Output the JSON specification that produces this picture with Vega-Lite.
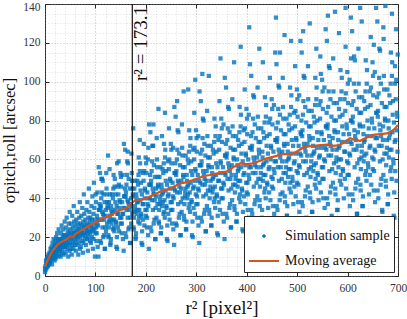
{
"$schema": "https://vega.github.io/schema/vega-lite/v6.json",
"width": 353, "height": 272,
"autosize": {"type": "none"},
"padding": {"left": 45, "top": 4, "right": 9, "bottom": 43},
"background": "white",
"config": {
  "view": {"stroke": "#262626", "strokeWidth": 1},
  "font": "Liberation Serif",
  "axis": {"labelFont": "Liberation Serif", "titleFont": "Liberation Serif", "labelColor": "#333333", "titleColor": "#111111", "tickColor": "#262626", "domain": false, "labelFlush": false, "labelOverlap": false}
},
"datasets": {
"samples": [
{"x":0,"y":2},{"x":0,"y":4},{"x":1,"y":5},{"x":1,"y":3},{"x":2,"y":6},{"x":2,"y":8},{"x":3,"y":4},{"x":3,"y":7},{"x":4,"y":5},{"x":4,"y":9},{"x":5,"y":6},{"x":5,"y":8},{"x":6,"y":10},{"x":6,"y":5},{"x":7,"y":7},{"x":7,"y":11},{"x":8,"y":9},{"x":8,"y":6},{"x":9,"y":12},{"x":9,"y":8},
{"x":10,"y":7},{"x":10,"y":11},{"x":11,"y":9},{"x":11,"y":14},{"x":12,"y":12},{"x":12,"y":8},{"x":13,"y":10},{"x":13,"y":15},{"x":14,"y":13},{"x":14,"y":6},{"x":15,"y":11},{"x":15,"y":17},{"x":16,"y":9},{"x":16,"y":13},{"x":17,"y":12},{"x":17,"y":19},{"x":18,"y":14},{"x":18,"y":10},{"x":19,"y":16},{"x":19,"y":8},
{"x":20,"y":11},{"x":20,"y":15},{"x":21,"y":9},{"x":21,"y":18},{"x":22,"y":13},{"x":22,"y":20},{"x":23,"y":16},{"x":23,"y":12},{"x":24,"y":14},{"x":24,"y":22},{"x":25,"y":10},{"x":25,"y":17},{"x":26,"y":15},{"x":26,"y":19},{"x":27,"y":13},{"x":27,"y":24},{"x":28,"y":16},{"x":28,"y":11},{"x":29,"y":18},{"x":29,"y":14},
{"x":30,"y":13},{"x":30,"y":19},{"x":31,"y":10},{"x":31,"y":16},{"x":32,"y":22},{"x":32,"y":15},{"x":33,"y":18},{"x":33,"y":26},{"x":34,"y":12},{"x":34,"y":17},{"x":35,"y":20},{"x":35,"y":14},{"x":36,"y":24},{"x":36,"y":16},{"x":37,"y":19},{"x":37,"y":11},{"x":38,"y":21},{"x":38,"y":17},{"x":39,"y":28},{"x":39,"y":15},
{"x":40,"y":15},{"x":40,"y":21},{"x":41,"y":12},{"x":41,"y":18},{"x":42,"y":25},{"x":42,"y":19},{"x":43,"y":16},{"x":43,"y":30},{"x":44,"y":20},{"x":44,"y":14},{"x":45,"y":23},{"x":45,"y":17},{"x":46,"y":10},{"x":46,"y":21},{"x":47,"y":19},{"x":47,"y":27},{"x":48,"y":16},{"x":48,"y":22},{"x":49,"y":13},{"x":49,"y":33},
{"x":50,"y":17},{"x":50,"y":24},{"x":51,"y":14},{"x":51,"y":20},{"x":52,"y":27},{"x":52,"y":19},{"x":53,"y":22},{"x":53,"y":11},{"x":54,"y":16},{"x":54,"y":31},{"x":55,"y":21},{"x":55,"y":25},{"x":56,"y":18},{"x":56,"y":14},{"x":57,"y":23},{"x":57,"y":36},{"x":58,"y":20},{"x":58,"y":28},{"x":59,"y":16},{"x":59,"y":22},
{"x":60,"y":18},{"x":60,"y":26},{"x":61,"y":13},{"x":61,"y":22},{"x":62,"y":29},{"x":62,"y":20},{"x":63,"y":24},{"x":63,"y":16},{"x":64,"y":33},{"x":64,"y":21},{"x":65,"y":19},{"x":65,"y":27},{"x":66,"y":11},{"x":66,"y":23},{"x":67,"y":25},{"x":67,"y":17},{"x":68,"y":30},{"x":68,"y":21},{"x":69,"y":38},{"x":69,"y":14},
{"x":70,"y":20},{"x":70,"y":27},{"x":71,"y":15},{"x":71,"y":24},{"x":72,"y":31},{"x":72,"y":22},{"x":73,"y":18},{"x":73,"y":26},{"x":74,"y":35},{"x":74,"y":23},{"x":75,"y":12},{"x":75,"y":21},{"x":76,"y":28},{"x":76,"y":17},{"x":77,"y":25},{"x":77,"y":42},{"x":78,"y":22},{"x":78,"y":32},{"x":79,"y":19},{"x":79,"y":26},
{"x":80,"y":21},{"x":80,"y":29},{"x":81,"y":16},{"x":81,"y":25},{"x":82,"y":34},{"x":82,"y":23},{"x":83,"y":19},{"x":83,"y":27},{"x":84,"y":38},{"x":84,"y":24},{"x":85,"y":13},{"x":85,"y":22},{"x":86,"y":30},{"x":86,"y":20},{"x":87,"y":26},{"x":87,"y":45},{"x":88,"y":23},{"x":88,"y":33},{"x":89,"y":18},{"x":89,"y":28},
{"x":90,"y":22},{"x":90,"y":30},{"x":91,"y":17},{"x":91,"y":26},{"x":92,"y":36},{"x":92,"y":24},{"x":93,"y":20},{"x":93,"y":29},{"x":94,"y":41},{"x":94,"y":25},{"x":95,"y":14},{"x":95,"y":23},{"x":96,"y":32},{"x":96,"y":19},{"x":97,"y":27},{"x":97,"y":48},{"x":98,"y":24},{"x":98,"y":35},{"x":99,"y":10},{"x":99,"y":29},
{"x":100,"y":22},{"x":101,"y":38},{"x":102,"y":18},{"x":103,"y":31},{"x":104,"y":43},{"x":105,"y":26},{"x":106,"y":10},{"x":107,"y":34},{"x":108,"y":29},{"x":109,"y":53},
{"x":110,"y":35},{"x":111,"y":17},{"x":112,"y":29},{"x":113,"y":50},{"x":114,"y":25},{"x":115,"y":32},{"x":116,"y":42},{"x":117,"y":21},{"x":118,"y":38},{"x":119,"y":14},
{"x":120,"y":31},{"x":121,"y":23},{"x":122,"y":45},{"x":123,"y":27},{"x":124,"y":36},{"x":125,"y":62},{"x":126,"y":20},{"x":127,"y":38},{"x":128,"y":29},{"x":129,"y":42},
{"x":130,"y":17},{"x":131,"y":36},{"x":132,"y":27},{"x":133,"y":42},{"x":134,"y":33},{"x":135,"y":24},{"x":136,"y":52},{"x":137,"y":29},{"x":138,"y":46},{"x":139,"y":34},
{"x":140,"y":42},{"x":141,"y":27},{"x":142,"y":36},{"x":143,"y":14},{"x":144,"y":46},{"x":145,"y":32},{"x":146,"y":59},{"x":147,"y":23},{"x":148,"y":39},{"x":149,"y":30},
{"x":150,"y":27},{"x":151,"y":46},{"x":152,"y":22},{"x":153,"y":38},{"x":154,"y":52},{"x":155,"y":32},{"x":156,"y":13},{"x":157,"y":41},{"x":158,"y":35},{"x":159,"y":65},
{"x":160,"y":41},{"x":161,"y":20},{"x":162,"y":34},{"x":163,"y":59},{"x":164,"y":30},{"x":165,"y":38},{"x":166,"y":50},{"x":167,"y":25},{"x":168,"y":45},{"x":169,"y":17},
{"x":170,"y":36},{"x":171,"y":27},{"x":172,"y":53},{"x":173,"y":32},{"x":174,"y":42},{"x":175,"y":76},{"x":176,"y":24},{"x":177,"y":45},{"x":178,"y":34},{"x":179,"y":49},
{"x":180,"y":20},{"x":181,"y":42},{"x":182,"y":32},{"x":183,"y":49},{"x":184,"y":38},{"x":185,"y":28},{"x":186,"y":61},{"x":187,"y":34},{"x":188,"y":54},{"x":189,"y":39},
{"x":190,"y":48},{"x":191,"y":31},{"x":192,"y":42},{"x":193,"y":16},{"x":194,"y":53},{"x":195,"y":37},{"x":196,"y":68},{"x":197,"y":26},{"x":198,"y":45},{"x":199,"y":34},
{"x":200,"y":31},{"x":201,"y":53},{"x":202,"y":25},{"x":203,"y":43},{"x":204,"y":60},{"x":205,"y":36},{"x":206,"y":14},{"x":207,"y":47},{"x":208,"y":40},{"x":209,"y":74},
{"x":210,"y":47},{"x":211,"y":23},{"x":212,"y":39},{"x":213,"y":67},{"x":214,"y":34},{"x":215,"y":43},{"x":216,"y":57},{"x":217,"y":29},{"x":218,"y":51},{"x":219,"y":19},
{"x":220,"y":41},{"x":221,"y":30},{"x":222,"y":60},{"x":223,"y":37},{"x":224,"y":47},{"x":225,"y":86},{"x":226,"y":27},{"x":227,"y":51},{"x":228,"y":39},{"x":229,"y":56},
{"x":230,"y":22},{"x":231,"y":47},{"x":232,"y":36},{"x":233,"y":55},{"x":234,"y":43},{"x":235,"y":32},{"x":236,"y":68},{"x":237,"y":39},{"x":238,"y":61},{"x":239,"y":44},
{"x":240,"y":54},{"x":241,"y":35},{"x":242,"y":47},{"x":243,"y":18},{"x":244,"y":59},{"x":245,"y":42},{"x":246,"y":76},{"x":247,"y":29},{"x":248,"y":50},{"x":249,"y":38},
{"x":250,"y":34},{"x":251,"y":58},{"x":252,"y":27},{"x":253,"y":48},{"x":254,"y":66},{"x":255,"y":40},{"x":256,"y":16},{"x":257,"y":53},{"x":258,"y":44},{"x":259,"y":82},
{"x":260,"y":52},{"x":261,"y":26},{"x":262,"y":43},{"x":263,"y":75},{"x":264,"y":37},{"x":265,"y":48},{"x":266,"y":63},{"x":267,"y":32},{"x":268,"y":57},{"x":269,"y":21},
{"x":270,"y":45},{"x":271,"y":33},{"x":272,"y":66},{"x":273,"y":40},{"x":274,"y":52},{"x":275,"y":95},{"x":276,"y":29},{"x":277,"y":56},{"x":278,"y":43},{"x":279,"y":62},
{"x":280,"y":24},{"x":281,"y":52},{"x":282,"y":40},{"x":283,"y":60},{"x":284,"y":47},{"x":285,"y":35},{"x":286,"y":75},{"x":287,"y":43},{"x":288,"y":67},{"x":289,"y":48},
{"x":290,"y":59},{"x":291,"y":38},{"x":292,"y":52},{"x":293,"y":20},{"x":294,"y":65},{"x":295,"y":46},{"x":296,"y":84},{"x":297,"y":32},{"x":298,"y":55},{"x":299,"y":42},
{"x":300,"y":37},{"x":301,"y":64},{"x":302,"y":30},{"x":303,"y":52},{"x":304,"y":72},{"x":305,"y":44},{"x":306,"y":17},{"x":307,"y":57},{"x":308,"y":48},{"x":309,"y":90},
{"x":310,"y":57},{"x":311,"y":28},{"x":312,"y":47},{"x":313,"y":81},{"x":314,"y":41},{"x":315,"y":52},{"x":316,"y":68},{"x":317,"y":34},{"x":318,"y":62},{"x":319,"y":23},
{"x":320,"y":49},{"x":321,"y":36},{"x":322,"y":72},{"x":323,"y":44},{"x":324,"y":57},{"x":325,"y":103},{"x":326,"y":32},{"x":327,"y":61},{"x":328,"y":46},{"x":329,"y":67},
{"x":330,"y":26},{"x":331,"y":56},{"x":332,"y":43},{"x":333,"y":65},{"x":334,"y":51},{"x":335,"y":38},{"x":336,"y":81},{"x":337,"y":46},{"x":338,"y":72},{"x":339,"y":52},
{"x":340,"y":64},{"x":341,"y":41},{"x":342,"y":56},{"x":343,"y":21},{"x":344,"y":70},{"x":345,"y":49},{"x":346,"y":90},{"x":347,"y":34},{"x":348,"y":59},{"x":349,"y":45},
{"x":350,"y":40},{"x":351,"y":69},{"x":352,"y":32},{"x":353,"y":56},{"x":354,"y":78},{"x":355,"y":47},{"x":356,"y":19},{"x":357,"y":62},{"x":358,"y":52},{"x":359,"y":97},
{"x":360,"y":61},{"x":361,"y":30},{"x":362,"y":50},{"x":363,"y":87},{"x":364,"y":44},{"x":365,"y":56},{"x":366,"y":74},{"x":367,"y":37},{"x":368,"y":66},{"x":369,"y":25},
{"x":370,"y":52},{"x":371,"y":39},{"x":372,"y":77},{"x":373,"y":47},{"x":374,"y":61},{"x":375,"y":110},{"x":376,"y":34},{"x":377,"y":65},{"x":378,"y":50},{"x":379,"y":72},
{"x":380,"y":28},{"x":381,"y":60},{"x":382,"y":46},{"x":383,"y":70},{"x":384,"y":55},{"x":385,"y":40},{"x":386,"y":87},{"x":387,"y":49},{"x":388,"y":77},{"x":389,"y":56},
{"x":390,"y":68},{"x":391,"y":44},{"x":392,"y":59},{"x":393,"y":23},{"x":394,"y":75},{"x":395,"y":53},{"x":396,"y":96},{"x":397,"y":37},{"x":398,"y":63},{"x":399,"y":48},
{"x":400,"y":43},{"x":401,"y":73},{"x":402,"y":34},{"x":403,"y":60},{"x":404,"y":83},{"x":405,"y":50},{"x":406,"y":20},{"x":407,"y":66},{"x":408,"y":56},{"x":409,"y":103},
{"x":410,"y":65},{"x":411,"y":32},{"x":412,"y":53},{"x":413,"y":93},{"x":414,"y":46},{"x":415,"y":59},{"x":416,"y":78},{"x":417,"y":39},{"x":418,"y":71},{"x":419,"y":26},
{"x":420,"y":56},{"x":421,"y":41},{"x":422,"y":82},{"x":423,"y":50},{"x":424,"y":65},{"x":425,"y":117},{"x":426,"y":36},{"x":427,"y":69},{"x":428,"y":53},{"x":429,"y":76},
{"x":430,"y":30},{"x":431,"y":64},{"x":432,"y":49},{"x":433,"y":74},{"x":434,"y":58},{"x":435,"y":43},{"x":436,"y":92},{"x":437,"y":52},{"x":438,"y":82},{"x":439,"y":59},
{"x":440,"y":72},{"x":441,"y":47},{"x":442,"y":63},{"x":443,"y":24},{"x":444,"y":79},{"x":445,"y":56},{"x":446,"y":102},{"x":447,"y":39},{"x":448,"y":67},{"x":449,"y":51},
{"x":450,"y":46},{"x":451,"y":78},{"x":452,"y":36},{"x":453,"y":64},{"x":454,"y":88},{"x":455,"y":53},{"x":456,"y":21},{"x":457,"y":70},{"x":458,"y":59},{"x":459,"y":109},
{"x":460,"y":69},{"x":461,"y":34},{"x":462,"y":56},{"x":463,"y":98},{"x":464,"y":49},{"x":465,"y":63},{"x":466,"y":83},{"x":467,"y":42},{"x":468,"y":75},{"x":469,"y":28},
{"x":470,"y":59},{"x":471,"y":43},{"x":472,"y":87},{"x":473,"y":53},{"x":474,"y":68},{"x":475,"y":124},{"x":476,"y":38},{"x":477,"y":73},{"x":478,"y":56},{"x":479,"y":81},
{"x":480,"y":31},{"x":481,"y":68},{"x":482,"y":51},{"x":483,"y":78},{"x":484,"y":61},{"x":485,"y":45},{"x":486,"y":97},{"x":487,"y":55},{"x":488,"y":87},{"x":489,"y":63},
{"x":490,"y":76},{"x":491,"y":49},{"x":492,"y":67},{"x":493,"y":25},{"x":494,"y":84},{"x":495,"y":59},{"x":496,"y":108},{"x":497,"y":41},{"x":498,"y":71},{"x":499,"y":54},
{"x":500,"y":48},{"x":501,"y":82},{"x":502,"y":38},{"x":503,"y":67},{"x":504,"y":93},{"x":505,"y":56},{"x":506,"y":22},{"x":507,"y":74},{"x":508,"y":62},{"x":509,"y":115},
{"x":510,"y":72},{"x":511,"y":36},{"x":512,"y":59},{"x":513,"y":103},{"x":514,"y":52},{"x":515,"y":66},{"x":516,"y":87},{"x":517,"y":44},{"x":518,"y":79},{"x":519,"y":29},
{"x":520,"y":62},{"x":521,"y":46},{"x":522,"y":91},{"x":523,"y":55},{"x":524,"y":72},{"x":525,"y":130},{"x":526,"y":40},{"x":527,"y":77},{"x":528,"y":59},{"x":529,"y":85},
{"x":530,"y":33},{"x":531,"y":71},{"x":532,"y":54},{"x":533,"y":82},{"x":534,"y":64},{"x":535,"y":47},{"x":536,"y":102},{"x":537,"y":58},{"x":538,"y":91},{"x":539,"y":66},
{"x":540,"y":80},{"x":541,"y":52},{"x":542,"y":70},{"x":543,"y":27},{"x":544,"y":88},{"x":545,"y":62},{"x":546,"y":113},{"x":547,"y":43},{"x":548,"y":74},{"x":549,"y":56},
{"x":550,"y":50},{"x":551,"y":86},{"x":552,"y":40},{"x":553,"y":70},{"x":554,"y":97},{"x":555,"y":59},{"x":556,"y":23},{"x":557,"y":77},{"x":558,"y":65},{"x":559,"y":121},
{"x":560,"y":76},{"x":561,"y":37},{"x":562,"y":62},{"x":563,"y":108},{"x":564,"y":54},{"x":565,"y":69},{"x":566,"y":91},{"x":567,"y":46},{"x":568,"y":82},{"x":569,"y":30},
{"x":570,"y":65},{"x":571,"y":48},{"x":572,"y":95},{"x":573,"y":58},{"x":574,"y":75},{"x":575,"y":136},{"x":576,"y":42},{"x":577,"y":80},{"x":578,"y":61},{"x":579,"y":89},
{"x":580,"y":34},{"x":581,"y":74},{"x":582,"y":56},{"x":583,"y":86},{"x":584,"y":67},{"x":585,"y":49},{"x":586,"y":106},{"x":587,"y":60},{"x":588,"y":95},{"x":589,"y":69},
{"x":590,"y":83},{"x":591,"y":54},{"x":592,"y":73},{"x":593,"y":28},{"x":594,"y":91},{"x":595,"y":64},{"x":596,"y":118},{"x":597,"y":45},{"x":598,"y":78},{"x":599,"y":59},
{"x":600,"y":52},{"x":601,"y":89},{"x":602,"y":42},{"x":603,"y":73},{"x":604,"y":101},{"x":605,"y":62},{"x":606,"y":24},{"x":607,"y":80},{"x":608,"y":68},{"x":609,"y":126},
{"x":610,"y":79},{"x":611,"y":39},{"x":612,"y":65},{"x":613,"y":113},{"x":614,"y":56},{"x":615,"y":72},{"x":616,"y":95},{"x":617,"y":48},{"x":618,"y":86},{"x":619,"y":32},
{"x":620,"y":67},{"x":621,"y":50},{"x":622,"y":99},{"x":623,"y":60},{"x":624,"y":78},{"x":625,"y":138},{"x":626,"y":44},{"x":627,"y":84},{"x":628,"y":64},{"x":629,"y":92},
{"x":630,"y":36},{"x":631,"y":77},{"x":632,"y":59},{"x":633,"y":90},{"x":634,"y":70},{"x":635,"y":52},{"x":636,"y":111},{"x":637,"y":63},{"x":638,"y":99},{"x":639,"y":72},
{"x":640,"y":87},{"x":641,"y":56},{"x":642,"y":76},{"x":643,"y":29},{"x":644,"y":95},{"x":645,"y":67},{"x":646,"y":123},{"x":647,"y":47},{"x":648,"y":81},{"x":649,"y":61},
{"x":650,"y":55},{"x":651,"y":93},{"x":652,"y":44},{"x":653,"y":76},{"x":654,"y":105},{"x":655,"y":64},{"x":656,"y":25},{"x":657,"y":84},{"x":658,"y":71},{"x":659,"y":131},
{"x":660,"y":82},{"x":661,"y":40},{"x":662,"y":67},{"x":663,"y":117},{"x":664,"y":59},{"x":665,"y":75},{"x":666,"y":99},{"x":667,"y":50},{"x":668,"y":89},{"x":669,"y":33},
{"x":670,"y":70},{"x":671,"y":52},{"x":672,"y":103},{"x":673,"y":63},{"x":674,"y":81},{"x":675,"y":139},{"x":676,"y":46},{"x":677,"y":87},{"x":678,"y":66},{"x":679,"y":96},
{"x":680,"y":37},{"x":681,"y":80},{"x":682,"y":61},{"x":683,"y":93},{"x":684,"y":73},{"x":685,"y":54},{"x":686,"y":115},{"x":687,"y":65},{"x":688,"y":103},{"x":689,"y":74},
{"x":690,"y":90},{"x":691,"y":58},{"x":692,"y":79},{"x":693,"y":30},{"x":694,"y":99},{"x":695,"y":70},{"x":696,"y":127},{"x":697,"y":49},{"x":698,"y":84},{"x":699,"y":64},
{"x":312,"y":104},{"x":348,"y":112},{"x":388,"y":118},{"x":405,"y":128},{"x":432,"y":110},{"x":458,"y":133},{"x":488,"y":121},{"x":512,"y":126},{"x":538,"y":117},{"x":561,"y":134},{"x":583,"y":125},{"x":607,"y":112},{"x":628,"y":131},{"x":652,"y":119},{"x":671,"y":128},{"x":688,"y":135},{"x":694,"y":108},{"x":547,"y":104},{"x":466,"y":115},{"x":596,"y":138},
{"x":215,"y":78},{"x":238,"y":84},{"x":262,"y":90},{"x":284,"y":96},{"x":298,"y":101},{"x":232,"y":72},{"x":205,"y":66},{"x":188,"y":70},{"x":164,"y":64},{"x":143,"y":58},{"x":128,"y":55},{"x":112,"y":50},
{"x":107.5,"y":34},{"x":102.5,"y":22},{"x":105.5,"y":29},{"x":100.5,"y":42},{"x":109.5,"y":18},{"x":103.5,"y":27},{"x":108.5,"y":37},{"x":101.5,"y":25},{"x":106.5,"y":56},{"x":104.5,"y":15},
{"x":117.5,"y":29},{"x":112.5,"y":43},{"x":115.5,"y":20},{"x":110.5,"y":36},{"x":119.5,"y":25},{"x":113.5,"y":33},{"x":118.5,"y":14},{"x":111.5,"y":40},{"x":116.5,"y":31},{"x":114.5,"y":49},
{"x":127.5,"y":28},{"x":122.5,"y":42},{"x":125.5,"y":21},{"x":120.5,"y":34},{"x":129.5,"y":16},{"x":123.5,"y":38},{"x":128.5,"y":31},{"x":121.5,"y":53},{"x":126.5,"y":25},{"x":124.5,"y":35},
{"x":137.5,"y":23},{"x":132.5,"y":32},{"x":135.5,"y":45},{"x":130.5,"y":19},{"x":139.5,"y":38},{"x":133.5,"y":29},{"x":138.5,"y":50},{"x":131.5,"y":34},{"x":136.5,"y":25},{"x":134.5,"y":40},
{"x":147.5,"y":35},{"x":142.5,"y":20},{"x":145.5,"y":42},{"x":140.5,"y":28},{"x":149.5,"y":53},{"x":143.5,"y":32},{"x":148.5,"y":38},{"x":141.5,"y":15},{"x":146.5,"y":47},{"x":144.5,"y":25},
{"x":157.5,"y":41},{"x":152.5,"y":27},{"x":155.5,"y":35},{"x":150.5,"y":51},{"x":159.5,"y":22},{"x":153.5,"y":32},{"x":158.5,"y":45},{"x":151.5,"y":30},{"x":156.5,"y":68},{"x":154.5,"y":19},
{"x":167.5,"y":34},{"x":162.5,"y":52},{"x":165.5,"y":24},{"x":160.5,"y":43},{"x":169.5,"y":30},{"x":163.5,"y":39},{"x":168.5,"y":17},{"x":161.5,"y":47},{"x":166.5,"y":37},{"x":164.5,"y":58},
{"x":177.5,"y":33},{"x":172.5,"y":49},{"x":175.5,"y":25},{"x":170.5,"y":40},{"x":179.5,"y":19},{"x":173.5,"y":45},{"x":178.5,"y":36},{"x":171.5,"y":63},{"x":176.5,"y":30},{"x":174.5,"y":41},
{"x":187.5,"y":27},{"x":182.5,"y":38},{"x":185.5,"y":52},{"x":180.5,"y":22},{"x":189.5,"y":44},{"x":183.5,"y":34},{"x":188.5,"y":58},{"x":181.5,"y":40},{"x":186.5,"y":30},{"x":184.5,"y":47},
{"x":197.5,"y":40},{"x":192.5,"y":23},{"x":195.5,"y":49},{"x":190.5,"y":32},{"x":199.5,"y":61},{"x":193.5,"y":37},{"x":198.5,"y":44},{"x":191.5,"y":17},{"x":196.5,"y":54},{"x":194.5,"y":29},
{"x":207.5,"y":47},{"x":202.5,"y":30},{"x":205.5,"y":40},{"x":200.5,"y":58},{"x":209.5,"y":25},{"x":203.5,"y":37},{"x":208.5,"y":52},{"x":201.5,"y":34},{"x":206.5,"y":78},{"x":204.5,"y":21},
{"x":217.5,"y":39},{"x":212.5,"y":59},{"x":215.5,"y":27},{"x":210.5,"y":49},{"x":219.5,"y":35},{"x":213.5,"y":45},{"x":218.5,"y":19},{"x":211.5,"y":54},{"x":216.5,"y":42},{"x":214.5,"y":67},
{"x":227.5,"y":37},{"x":222.5,"y":56},{"x":225.5,"y":28},{"x":220.5,"y":45},{"x":229.5,"y":22},{"x":223.5,"y":51},{"x":228.5,"y":41},{"x":221.5,"y":71},{"x":226.5,"y":34},{"x":224.5,"y":46},
{"x":237.5,"y":30},{"x":232.5,"y":42},{"x":235.5,"y":58},{"x":230.5,"y":25},{"x":239.5,"y":49},{"x":233.5,"y":38},{"x":238.5,"y":65},{"x":231.5,"y":45},{"x":236.5,"y":33},{"x":234.5,"y":53},
{"x":247.5,"y":45},{"x":242.5,"y":26},{"x":245.5,"y":55},{"x":240.5,"y":36},{"x":249.5,"y":68},{"x":243.5,"y":41},{"x":248.5,"y":49},{"x":241.5,"y":19},{"x":246.5,"y":60},{"x":244.5,"y":32},
{"x":257.5,"y":53},{"x":252.5,"y":34},{"x":255.5,"y":45},{"x":250.5,"y":65},{"x":259.5,"y":27},{"x":253.5,"y":41},{"x":258.5,"y":58},{"x":251.5,"y":38},{"x":256.5,"y":87},{"x":254.5,"y":24},
{"x":267.5,"y":43},{"x":262.5,"y":65},{"x":265.5,"y":30},{"x":260.5,"y":54},{"x":269.5,"y":38},{"x":263.5,"y":49},{"x":268.5,"y":21},{"x":261.5,"y":60},{"x":266.5,"y":46},{"x":264.5,"y":74},
{"x":277.5,"y":41},{"x":272.5,"y":62},{"x":275.5,"y":31},{"x":270.5,"y":49},{"x":279.5,"y":24},{"x":273.5,"y":56},{"x":278.5,"y":45},{"x":271.5,"y":78},{"x":276.5,"y":37},{"x":274.5,"y":51},
{"x":287.5,"y":33},{"x":282.5,"y":46},{"x":285.5,"y":64},{"x":280.5,"y":28},{"x":289.5,"y":54},{"x":283.5,"y":42},{"x":288.5,"y":71},{"x":281.5,"y":49},{"x":286.5,"y":37},{"x":284.5,"y":58},
{"x":297.5,"y":49},{"x":292.5,"y":28},{"x":295.5,"y":60},{"x":290.5,"y":39},{"x":299.5,"y":75},{"x":293.5,"y":45},{"x":298.5,"y":54},{"x":291.5,"y":21},{"x":296.5,"y":66},{"x":294.5,"y":35},
{"x":307.5,"y":57},{"x":302.5,"y":37},{"x":305.5,"y":49},{"x":300.5,"y":71},{"x":309.5,"y":30},{"x":303.5,"y":45},{"x":308.5,"y":63},{"x":301.5,"y":41},{"x":306.5,"y":95},{"x":304.5,"y":26},
{"x":317.5,"y":47},{"x":312.5,"y":71},{"x":315.5,"y":32},{"x":310.5,"y":59},{"x":319.5,"y":42},{"x":313.5,"y":54},{"x":318.5,"y":23},{"x":311.5,"y":65},{"x":316.5,"y":50},{"x":314.5,"y":80},
{"x":327.5,"y":44},{"x":322.5,"y":67},{"x":325.5,"y":34},{"x":320.5,"y":54},{"x":329.5,"y":26},{"x":323.5,"y":61},{"x":328.5,"y":49},{"x":321.5,"y":85},{"x":326.5,"y":40},{"x":324.5,"y":56},
{"x":337.5,"y":35},{"x":332.5,"y":50},{"x":335.5,"y":69},{"x":330.5,"y":30},{"x":339.5,"y":58},{"x":333.5,"y":45},{"x":338.5,"y":77},{"x":331.5,"y":53},{"x":336.5,"y":40},{"x":334.5,"y":63},
{"x":347.5,"y":53},{"x":342.5,"y":31},{"x":345.5,"y":65},{"x":340.5,"y":42},{"x":349.5,"y":81},{"x":343.5,"y":49},{"x":348.5,"y":58},{"x":341.5,"y":22},{"x":346.5,"y":72},{"x":344.5,"y":38},
{"x":357.5,"y":62},{"x":352.5,"y":40},{"x":355.5,"y":53},{"x":350.5,"y":76},{"x":359.5,"y":32},{"x":353.5,"y":48},{"x":358.5,"y":68},{"x":351.5,"y":45},{"x":356.5,"y":102},{"x":354.5,"y":28},
{"x":367.5,"y":50},{"x":362.5,"y":76},{"x":365.5,"y":35},{"x":360.5,"y":63},{"x":369.5,"y":45},{"x":363.5,"y":58},{"x":368.5,"y":25},{"x":361.5,"y":70},{"x":366.5,"y":54},{"x":364.5,"y":86},
{"x":377.5,"y":47},{"x":372.5,"y":72},{"x":375.5,"y":36},{"x":370.5,"y":57},{"x":379.5,"y":28},{"x":373.5,"y":65},{"x":378.5,"y":52},{"x":371.5,"y":91},{"x":376.5,"y":43},{"x":374.5,"y":60},
{"x":387.5,"y":38},{"x":382.5,"y":54},{"x":385.5,"y":74},{"x":380.5,"y":32},{"x":389.5,"y":63},{"x":383.5,"y":49},{"x":388.5,"y":83},{"x":381.5,"y":57},{"x":386.5,"y":42},{"x":384.5,"y":67},
{"x":397.5,"y":57},{"x":392.5,"y":33},{"x":395.5,"y":69},{"x":390.5,"y":45},{"x":399.5,"y":86},{"x":393.5,"y":52},{"x":398.5,"y":62},{"x":391.5,"y":24},{"x":396.5,"y":76},{"x":394.5,"y":41},
{"x":407.5,"y":66},{"x":402.5,"y":42},{"x":405.5,"y":56},{"x":400.5,"y":81},{"x":409.5,"y":34},{"x":403.5,"y":52},{"x":408.5,"y":72},{"x":401.5,"y":48},{"x":406.5,"y":109},{"x":404.5,"y":30},
{"x":417.5,"y":53},{"x":412.5,"y":81},{"x":415.5,"y":37},{"x":410.5,"y":67},{"x":419.5,"y":48},{"x":413.5,"y":61},{"x":418.5,"y":27},{"x":411.5,"y":74},{"x":416.5,"y":57},{"x":414.5,"y":92},
{"x":427.5,"y":50},{"x":422.5,"y":76},{"x":425.5,"y":39},{"x":420.5,"y":61},{"x":429.5,"y":29},{"x":423.5,"y":69},{"x":428.5,"y":56},{"x":421.5,"y":97},{"x":426.5,"y":46},{"x":424.5,"y":63},
{"x":437.5,"y":40},{"x":432.5,"y":57},{"x":435.5,"y":79},{"x":430.5,"y":34},{"x":439.5,"y":67},{"x":433.5,"y":52},{"x":438.5,"y":88},{"x":431.5,"y":61},{"x":436.5,"y":45},{"x":434.5,"y":71},
{"x":447.5,"y":60},{"x":442.5,"y":35},{"x":445.5,"y":73},{"x":440.5,"y":48},{"x":449.5,"y":91},{"x":443.5,"y":55},{"x":448.5,"y":66},{"x":441.5,"y":25},{"x":446.5,"y":81},{"x":444.5,"y":43},
{"x":457.5,"y":70},{"x":452.5,"y":45},{"x":455.5,"y":59},{"x":450.5,"y":86},{"x":459.5,"y":36},{"x":453.5,"y":55},{"x":458.5,"y":76},{"x":451.5,"y":50},{"x":456.5,"y":115},{"x":454.5,"y":32},
{"x":467.5,"y":56},{"x":462.5,"y":86},{"x":465.5,"y":39},{"x":460.5,"y":71},{"x":469.5,"y":50},{"x":463.5,"y":65},{"x":468.5,"y":28},{"x":461.5,"y":79},{"x":466.5,"y":61},{"x":464.5,"y":97},
{"x":477.5,"y":53},{"x":472.5,"y":81},{"x":475.5,"y":41},{"x":470.5,"y":64},{"x":479.5,"y":31},{"x":473.5,"y":73},{"x":478.5,"y":59},{"x":471.5,"y":102},{"x":476.5,"y":48},{"x":474.5,"y":67},
{"x":487.5,"y":43},{"x":482.5,"y":60},{"x":485.5,"y":83},{"x":480.5,"y":36},{"x":489.5,"y":70},{"x":483.5,"y":55},{"x":488.5,"y":93},{"x":481.5,"y":64},{"x":486.5,"y":48},{"x":484.5,"y":75},
{"x":497.5,"y":63},{"x":492.5,"y":37},{"x":495.5,"y":77},{"x":490.5,"y":51},{"x":499.5,"y":96},{"x":493.5,"y":58},{"x":498.5,"y":70},{"x":491.5,"y":27},{"x":496.5,"y":85},{"x":494.5,"y":46},
{"x":507.5,"y":73},{"x":502.5,"y":47},{"x":505.5,"y":63},{"x":500.5,"y":91},{"x":509.5,"y":38},{"x":503.5,"y":57},{"x":508.5,"y":80},{"x":501.5,"y":53},{"x":506.5,"y":121},{"x":504.5,"y":33},
{"x":517.5,"y":59},{"x":512.5,"y":90},{"x":515.5,"y":41},{"x":510.5,"y":75},{"x":519.5,"y":53},{"x":513.5,"y":68},{"x":518.5,"y":30},{"x":511.5,"y":83},{"x":516.5,"y":64},{"x":514.5,"y":102},
{"x":527.5,"y":56},{"x":522.5,"y":85},{"x":525.5,"y":43},{"x":520.5,"y":68},{"x":529.5,"y":33},{"x":523.5,"y":77},{"x":528.5,"y":62},{"x":521.5,"y":108},{"x":526.5,"y":51},{"x":524.5,"y":70},
{"x":537.5,"y":45},{"x":532.5,"y":63},{"x":535.5,"y":88},{"x":530.5,"y":38},{"x":539.5,"y":74},{"x":533.5,"y":57},{"x":538.5,"y":97},{"x":531.5,"y":67},{"x":536.5,"y":50},{"x":534.5,"y":79},
{"x":547.5,"y":66},{"x":542.5,"y":39},{"x":545.5,"y":81},{"x":540.5,"y":53},{"x":549.5,"y":101},{"x":543.5,"y":61},{"x":548.5,"y":73},{"x":541.5,"y":28},{"x":546.5,"y":90},{"x":544.5,"y":48},
{"x":557.5,"y":77},{"x":552.5,"y":50},{"x":555.5,"y":66},{"x":550.5,"y":95},{"x":559.5,"y":40},{"x":553.5,"y":60},{"x":558.5,"y":84},{"x":551.5,"y":56},{"x":556.5,"y":127},{"x":554.5,"y":35},
{"x":567.5,"y":62},{"x":562.5,"y":95},{"x":565.5,"y":43},{"x":560.5,"y":78},{"x":569.5,"y":55},{"x":563.5,"y":72},{"x":568.5,"y":31},{"x":561.5,"y":87},{"x":566.5,"y":67},{"x":564.5,"y":107},
{"x":577.5,"y":59},{"x":572.5,"y":89},{"x":575.5,"y":45},{"x":570.5,"y":71},{"x":579.5,"y":34},{"x":573.5,"y":80},{"x":578.5,"y":65},{"x":571.5,"y":112},{"x":576.5,"y":53},{"x":574.5,"y":74},
{"x":587.5,"y":47},{"x":582.5,"y":66},{"x":585.5,"y":91},{"x":580.5,"y":39},{"x":589.5,"y":77},{"x":583.5,"y":60},{"x":588.5,"y":102},{"x":581.5,"y":70},{"x":586.5,"y":52},{"x":584.5,"y":82},
{"x":597.5,"y":69},{"x":592.5,"y":40},{"x":595.5,"y":85},{"x":590.5,"y":55},{"x":599.5,"y":105},{"x":593.5,"y":64},{"x":598.5,"y":76},{"x":591.5,"y":29},{"x":596.5,"y":94},{"x":594.5,"y":50},
{"x":607.5,"y":80},{"x":602.5,"y":52},{"x":605.5,"y":69},{"x":600.5,"y":99},{"x":609.5,"y":42},{"x":603.5,"y":63},{"x":608.5,"y":88},{"x":601.5,"y":58},{"x":606.5,"y":133},{"x":604.5,"y":36},
{"x":617.5,"y":65},{"x":612.5,"y":99},{"x":615.5,"y":45},{"x":610.5,"y":82},{"x":619.5,"y":58},{"x":613.5,"y":75},{"x":618.5,"y":32},{"x":611.5,"y":90},{"x":616.5,"y":70},{"x":614.5,"y":111},
{"x":627.5,"y":61},{"x":622.5,"y":92},{"x":625.5,"y":47},{"x":620.5,"y":74},{"x":629.5,"y":36},{"x":623.5,"y":84},{"x":628.5,"y":67},{"x":621.5,"y":117},{"x":626.5,"y":55},{"x":624.5,"y":77},
{"x":637.5,"y":49},{"x":632.5,"y":69},{"x":635.5,"y":95},{"x":630.5,"y":41},{"x":639.5,"y":80},{"x":633.5,"y":62},{"x":638.5,"y":106},{"x":631.5,"y":73},{"x":636.5,"y":54},{"x":634.5,"y":86},
{"x":647.5,"y":72},{"x":642.5,"y":42},{"x":645.5,"y":88},{"x":640.5,"y":58},{"x":649.5,"y":110},{"x":643.5,"y":66},{"x":648.5,"y":79},{"x":641.5,"y":30},{"x":646.5,"y":97},{"x":644.5,"y":52},
{"x":657.5,"y":84},{"x":652.5,"y":54},{"x":655.5,"y":71},{"x":650.5,"y":103},{"x":659.5,"y":44},{"x":653.5,"y":65},{"x":658.5,"y":92},{"x":651.5,"y":60},{"x":656.5,"y":138},{"x":654.5,"y":38},
{"x":667.5,"y":67},{"x":662.5,"y":102},{"x":665.5,"y":47},{"x":660.5,"y":85},{"x":669.5,"y":60},{"x":663.5,"y":78},{"x":668.5,"y":34},{"x":661.5,"y":94},{"x":666.5,"y":72},{"x":664.5,"y":116},
{"x":677.5,"y":63},{"x":672.5,"y":96},{"x":675.5,"y":49},{"x":670.5,"y":77},{"x":679.5,"y":37},{"x":673.5,"y":87},{"x":678.5,"y":70},{"x":671.5,"y":122},{"x":676.5,"y":57},{"x":674.5,"y":80},
{"x":687.5,"y":50},{"x":682.5,"y":71},{"x":685.5,"y":99},{"x":680.5,"y":42},{"x":689.5,"y":83},{"x":683.5,"y":65},{"x":688.5,"y":110},{"x":681.5,"y":76},{"x":686.5,"y":56},{"x":684.5,"y":89},
{"x":697.5,"y":75},{"x":692.5,"y":43},{"x":695.5,"y":91},{"x":690.5,"y":60},{"x":699.5,"y":114},{"x":693.5,"y":69},{"x":698.5,"y":82},{"x":691.5,"y":31},{"x":696.5,"y":101},{"x":694.5,"y":54}
],
"avg": [
{"x":0,"y":4.8},{"x":5,"y":8},{"x":10,"y":10.5},{"x":15,"y":13},{"x":20,"y":14.5},{"x":25,"y":16.2},{"x":30,"y":17.2},{"x":40,"y":18.5},{"x":50,"y":20.3},{"x":56,"y":20.4},{"x":60,"y":21.6},{"x":70,"y":23.2},{"x":80,"y":24.8},{"x":89,"y":26.2},{"x":95,"y":26.8},{"x":100,"y":27.6},{"x":110,"y":29.2},{"x":122,"y":30.5},{"x":130,"y":31.2},{"x":142,"y":33.1},{"x":150,"y":34.0},{"x":162,"y":35.0},{"x":170,"y":37.2},{"x":179,"y":39.0},{"x":190,"y":39.2},{"x":202,"y":40.1},{"x":212,"y":41.4},{"x":228,"y":43.4},{"x":240,"y":44.2},{"x":250,"y":45.3},{"x":260,"y":46.6},{"x":268,"y":47.7},{"x":280,"y":48.2},{"x":294,"y":49.4},{"x":305,"y":50.4},{"x":315,"y":51.5},{"x":327,"y":52.0},{"x":338,"y":52.6},{"x":350,"y":53.2},{"x":360,"y":53.7},{"x":372,"y":55.8},{"x":387,"y":58.0},{"x":400,"y":57.6},{"x":413,"y":58.0},{"x":425,"y":59.2},{"x":440,"y":60.6},{"x":452,"y":61.3},{"x":466,"y":62.3},{"x":473,"y":62.8},{"x":482,"y":62.6},{"x":493,"y":63.1},{"x":503,"y":64.6},{"x":512,"y":66.2},{"x":525,"y":66.8},{"x":546,"y":67.4},{"x":560,"y":67.6},{"x":572,"y":67.0},{"x":585,"y":67.4},{"x":595,"y":69.2},{"x":605,"y":70.9},{"x":615,"y":70.0},{"x":625,"y":69.6},{"x":638,"y":71.3},{"x":651,"y":72.6},{"x":665,"y":73.0},{"x":678,"y":73.4},{"x":688,"y":74.6},{"x":695,"y":76.2},{"x":700,"y":77.7}
],
"marker": [{"r2": 173.1, "label": "r² = 173.1"}]
},
"layer": [
{
 "data": {"name": "samples"},
 "mark": {"type": "point", "shape": "square", "filled": true, "opacity": 0.8, "strokeWidth": 0, "size": 18},
 "encoding": {
  "x": {"field": "x", "type": "quantitative", "scale": {"domain": [0, 700], "nice": false, "zero": false},
   "axis": {"orient": "bottom", "values": [0,20,40,60,80,100,120,140,160,180,200,220,240,260,280,300,320,340,360,380,400,420,440,460,480,500,520,540,560,580,600,620,640,660,680,700],
    "labelExpr": "datum.value % 100 === 0 ? datum.label : ''", "title": "r² [pixel²]", "titleFontSize": 19, "titleFontWeight": "normal", "titlePadding": 5,
    "labelFontSize": 11.5, "labelPadding": 10, "tickSize": -4,
    "tickOpacity": {"condition": {"test": "datum.value % 100 === 0", "value": 1}, "value": 0},
    "grid": true, "gridDash": [1, 2], "gridColor": "#8c8c8c",
    "gridOpacity": {"condition": {"test": "datum.value % 100 === 0", "value": 0.55}, "value": 0.3}}},
  "y": {"field": "y", "type": "quantitative", "scale": {"domain": [0, 140], "nice": false},
   "axis": {"orient": "left", "values": [0,5,10,15,20,25,30,35,40,45,50,55,60,65,70,75,80,85,90,95,100,105,110,115,120,125,130,135,140],
    "labelExpr": "datum.value % 20 === 0 ? datum.label : ''", "title": "σpitch,roll [arcsec]", "titleFontSize": 16.5, "titleFontWeight": "normal", "titlePadding": 5,
    "labelFontSize": 11.5, "labelPadding": 9, "tickSize": -4,
    "labelOffset": {"condition": {"test": "datum.value === 140", "value": 3}, "value": 0},
    "tickOpacity": {"condition": {"test": "datum.value % 20 === 0", "value": 1}, "value": 0},
    "grid": true, "gridDash": [1, 2], "gridColor": "#8c8c8c",
    "gridOpacity": {"condition": {"test": "datum.value % 20 === 0", "value": 0.55}, "value": 0.3}}},
  "color": {"datum": "Simulation sample", "type": "nominal",
   "scale": {"domain": ["Simulation sample", "Moving average"], "range": ["#0072BD", "#D95319"]},
   "legend": {"title": null, "orient": "bottom-right", "offset": 4, "fillColor": "white", "strokeColor": "#262626", "padding": 4,
    "labelFont": "Liberation Serif", "labelFontSize": 14, "labelColor": "#111111", "labelLimit": 300, "labelOffset": 5, "rowPadding": 2,
    "symbolSize": 900, "symbolStrokeWidth": 2, "symbolOpacity": 1,
    "symbolType": {"expr": "datum.value === 'Moving average' ? 'stroke' : 'M-0.12,0A0.12,0.12 0 1,1 0.12,0A0.12,0.12 0 1,1 -0.12,0Z'"},
    "symbolStrokeColor": {"expr": "datum.value === 'Moving average' ? '#D95319' : 'transparent'"}}}
 }
},
{
 "data": {"name": "avg"},
 "mark": {"type": "line", "color": "#D95319", "strokeWidth": 2.2},
 "encoding": {
  "x": {"field": "x", "type": "quantitative", "axis": null},
  "y": {"field": "y", "type": "quantitative", "axis": null}
 }
},
{
 "data": {"name": "marker"},
 "mark": {"type": "rule", "color": "#111111", "strokeWidth": 1.2},
 "encoding": {
  "x": {"field": "r2", "type": "quantitative",
   "axis": {"orient": "top", "values": [0,100,200,300,400,500,600,700], "labels": false, "title": null, "grid": false, "tickSize": -4}}
 }
},
{
 "data": {"name": "marker"},
 "mark": {"type": "text", "angle": 270, "align": "right", "baseline": "top", "dy": 0, "dx": -2, "font": "Liberation Serif", "fontSize": 19, "color": "#111111"},
 "encoding": {
  "x": {"field": "r2", "type": "quantitative", "axis": null},
  "y": {"datum": 140, "type": "quantitative",
   "axis": {"orient": "right", "values": [0,20,40,60,80,100,120,140], "labels": false, "title": null, "grid": false, "tickSize": -4}},
  "text": {"field": "label"}
 }
}
],
"resolve": {"axis": {"x": "independent", "y": "independent"}}
}
